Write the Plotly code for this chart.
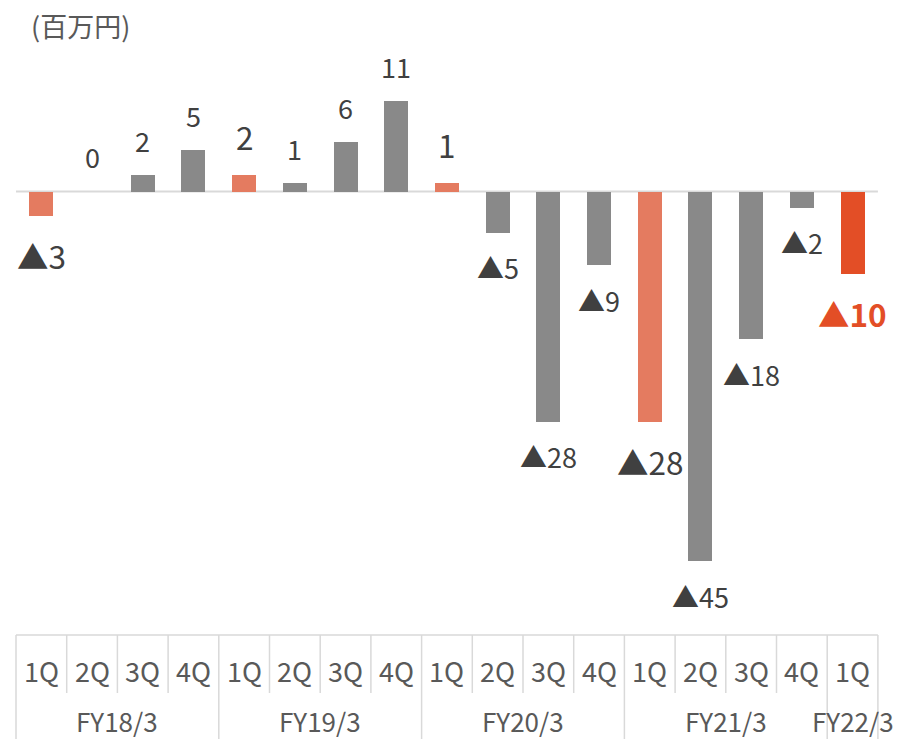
import plotly.graph_objects as go

# Quarterly operating result (million yen)
quarters = ["1Q", "2Q", "3Q", "4Q", "1Q", "2Q", "3Q", "4Q", "1Q", "2Q", "3Q", "4Q",
            "1Q", "2Q", "3Q", "4Q", "1Q"]
fiscal_years = ["FY18/3", "FY19/3", "FY20/3", "FY21/3", "FY22/3"]
fy_quarter_counts = [4, 4, 4, 4, 1]
values = [-3, 0, 2, 5, 2, 1, 6, 11, 1, -5, -28, -9, -28, -45, -18, -2, -10]

GRAY = "#898989"
SALMON = "#E47B60"
RED = "#E34E26"
TEXT = "#404040"
AXIS_TEXT = "#595959"
LINE = "#D9D9D9"
FONT = "Noto Sans CJK JP"

W, H = 914, 739
n = len(values)
idx = list(range(n))

# bar colours: first quarter of each fiscal year highlighted, latest quarter in red
colors = []
for i, q in enumerate(quarters):
    if i == n - 1:
        colors.append(RED)
    elif q == "1Q":
        colors.append(SALMON)
    else:
        colors.append(GRAY)

# axis scaling (pixels per category / per unit)
cat_px = 50.7
left_px = 16
zero_px = 191.5
unit_px = 8.22
x0 = -(left_px + cat_px / 2) / cat_px
x1 = x0 + W / cat_px
y1 = zero_px / unit_px
y0 = -(H - zero_px) / unit_px


def py(p):
    """pixel row -> paper y"""
    return 1 - p / H


fig = go.Figure()
fig.add_trace(go.Bar(
    x=idx, y=values, width=0.473,
    marker=dict(color=colors, line=dict(width=0)),
    hoverinfo="skip",
))

annotations = []
for i, v in enumerate(values):
    big = quarters[i] == "1Q"
    last = i == n - 1
    label = str(v) if v >= 0 else "▲" + str(-v)
    size = 31.5 if big else 27
    shift = 39 if big else 35
    annotations.append(dict(
        x=i, y=v, xref="x", yref="y", text=label, showarrow=False,
        yshift=shift if v >= 0 else -shift,
        font=dict(family=FONT, size=size, color=RED if last else TEXT,
                  weight="bold" if last else "normal"),
        xanchor="center", yanchor="middle", borderpad=0,
    ))

# quarter labels row
for i, q in enumerate(quarters):
    annotations.append(dict(
        x=i, y=py(670), xref="x", yref="paper", text=q, showarrow=False,
        font=dict(family=FONT, size=27, color=AXIS_TEXT),
        xanchor="center", yanchor="middle", borderpad=0,
    ))

# fiscal-year labels row
start = 0
group_edges = [0]
for fy, cnt in zip(fiscal_years, fy_quarter_counts):
    centre = start + (cnt - 1) / 2
    annotations.append(dict(
        x=centre, y=py(720), xref="x", yref="paper", text=fy, showarrow=False,
        font=dict(family=FONT, size=26, color=AXIS_TEXT),
        xanchor="center", yanchor="middle", borderpad=0,
    ))
    start += cnt
    group_edges.append(start)

# unit label
annotations.append(dict(
    x=30 / W, y=py(25), xref="paper", yref="paper", text="(百万円)",
    showarrow=False, font=dict(family=FONT, size=27, color=AXIS_TEXT),
    xanchor="left", yanchor="middle", borderpad=0,
))

shapes = []
# zero baseline
shapes.append(dict(type="line", xref="x", yref="y", x0=-0.5, x1=n - 0.5, y0=0, y1=0,
                   line=dict(color=LINE, width=2), layer="below"))
# category table: top border
shapes.append(dict(type="line", xref="x", yref="paper", x0=-0.5, x1=n - 0.5,
                   y0=py(635), y1=py(635), line=dict(color=LINE, width=1.5)))
# separators between quarters and between fiscal years
for k in range(n + 1):
    bottom = H if k in group_edges else 693
    shapes.append(dict(type="line", xref="x", yref="paper", x0=k - 0.5, x1=k - 0.5,
                       y0=py(635), y1=py(bottom), line=dict(color=LINE, width=1.5)))

fig.update_layout(
    width=W, height=H,
    margin=dict(l=0, r=0, t=0, b=0),
    paper_bgcolor="white", plot_bgcolor="white",
    showlegend=False,
    xaxis=dict(range=[x0, x1], visible=False, fixedrange=True),
    yaxis=dict(range=[y0, y1], visible=False, fixedrange=True),
    annotations=annotations,
    shapes=shapes,
    bargap=0,
)

fig.write_html("out.html")
